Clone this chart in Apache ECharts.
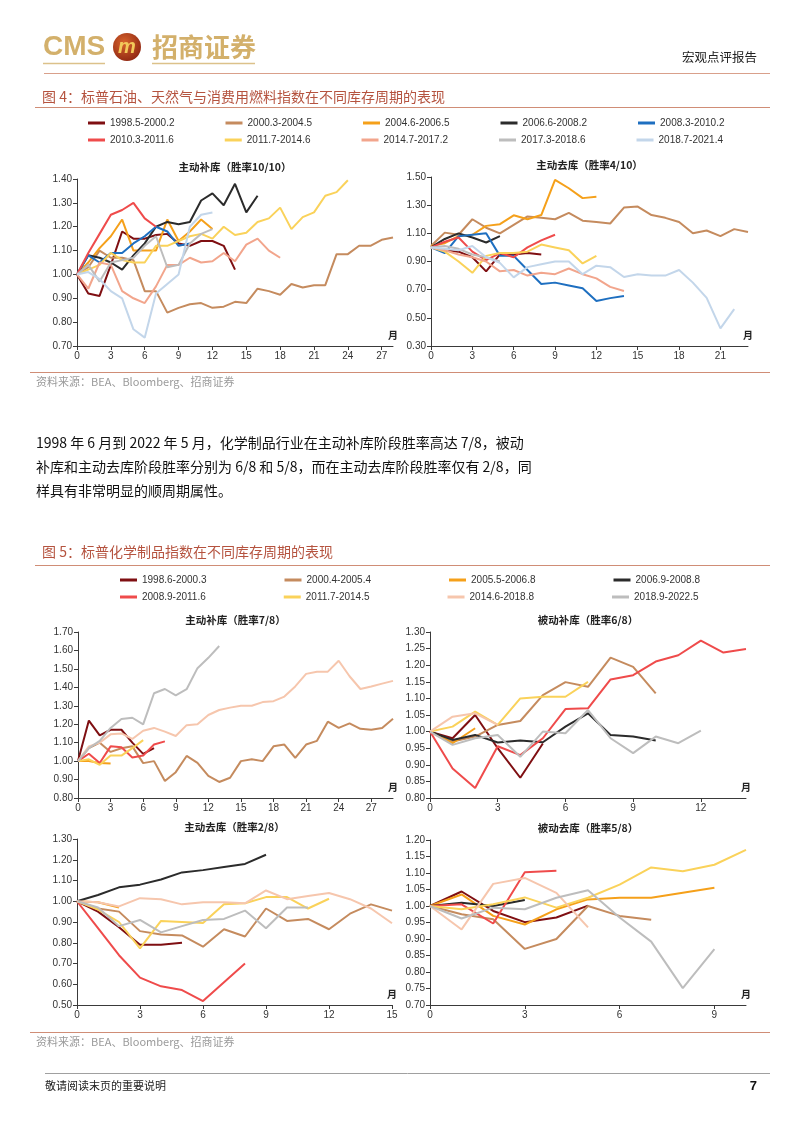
<!DOCTYPE html>
<html><head><meta charset="utf-8">
<script src="https://cdn.jsdelivr.net/npm/echarts@6/dist/echarts.min.js"></script>
<style>html,body{margin:0;padding:0;background:#fff}#c{width:802px;height:1133px}</style>
</head><body><div id="c"></div>
<script>
// ---------- DATA ----------
const fig4Names = ['1998.5-2000.2','2000.3-2004.5','2004.6-2006.5','2006.6-2008.2','2008.3-2010.2','2010.3-2011.6','2011.7-2014.6','2014.7-2017.2','2017.3-2018.6','2018.7-2021.4'];
const fig5Names = ['1998.6-2000.3','2000.4-2005.4','2005.5-2006.8','2006.9-2008.8','2008.9-2011.6','2011.7-2014.5','2014.6-2018.8','2018.9-2022.5'];

// Fig 4 left: 主动补库, index = month (order = fig4Names)
const fig4Left = [
  [1.00,0.92,0.91,1.04,1.18,1.15,1.15,1.165,1.17,1.13,1.12,1.14,1.14,1.12,1.02],
  [1.00,1.03,1.10,1.07,1.07,1.06,0.93,0.93,0.84,0.86,0.875,0.88,0.86,0.865,0.885,0.88,0.94,0.93,0.915,0.96,0.945,0.955,0.955,1.085,1.085,1.12,1.12,1.145,1.155],
  [1.00,1.05,1.11,1.16,1.23,1.10,1.10,1.10,1.23,1.14,1.18,1.23,1.19],
  [1.00,1.08,1.07,1.05,1.02,1.08,1.13,1.20,1.22,1.21,1.22,1.31,1.34,1.29,1.38,1.26,1.33],
  [1.00,1.08,1.05,1.09,1.09,1.13,1.16,1.20,1.18,1.12,1.13],
  [1.00,1.09,1.17,1.25,1.27,1.30,1.235,1.20],
  [1.00,1.02,1.04,1.09,1.06,1.05,1.05,1.12,1.12,1.14,1.16,1.17,1.15,1.20,1.165,1.175,1.22,1.235,1.28,1.19,1.24,1.26,1.33,1.345,1.395],
  [1.00,0.94,1.05,1.04,0.93,0.90,0.88,0.95,1.04,1.04,1.07,1.05,1.055,1.09,1.055,1.125,1.15,1.10,1.07],
  [1.00,1.04,0.97,1.05,1.06,1.07,1.12,1.16,1.03,1.04,1.13,1.17,1.19],
  [1.00,1.01,0.98,0.93,0.90,0.77,0.735,0.92,0.96,1.00,1.20,1.25,1.26]
];
// Fig 4 right: 主动去库
const fig4Right = [
  [1.00,0.98,0.97,0.93,0.83,0.95,0.95,0.96,0.95],
  [1.01,1.105,1.09,1.20,1.14,1.10,1.16,1.22,1.21,1.20,1.245,1.19,1.18,1.17,1.283,1.29,1.23,1.21,1.18,1.10,1.12,1.08,1.13,1.11],
  [1.01,1.03,1.08,1.09,1.153,1.165,1.228,1.20,1.23,1.48,1.42,1.35,1.36],
  [1.00,1.06,1.10,1.07,1.035,1.08],
  [1.00,0.96,1.08,1.09,1.10,0.94,0.94,0.84,0.74,0.75,0.73,0.71,0.62,0.64,0.655],
  [1.00,1.04,1.07,0.97,0.91,0.96,0.93,1.00,1.05,1.09],
  [1.00,0.97,0.90,0.82,0.94,0.96,0.96,0.97,1.02,1.00,0.98,0.886,0.94],
  [1.00,0.98,0.95,0.93,0.90,0.83,0.84,0.80,0.82,0.81,0.85,0.81,0.78,0.72,0.69],
  [1.00,1.01,0.99,0.95,0.93,0.90],
  [1.00,0.99,0.98,1.01,0.93,0.89,0.787,0.86,0.88,0.90,0.90,0.81,0.87,0.86,0.79,0.81,0.80,0.80,0.84,0.75,0.642,0.425,0.562]
];
// Fig 5 (order = fig5Names)
const fig5ActRestock = [
  [1.00,1.22,1.14,1.17,1.17,1.10,1.039,1.07],
  [1.00,1.07,1.10,1.05,1.07,1.08,0.989,1.00,0.892,0.94,1.028,0.99,0.92,0.887,0.91,1.00,1.01,1.00,1.08,1.09,1.018,1.09,1.11,1.214,1.18,1.205,1.175,1.17,1.18,1.23],
  [1.00,1.00,0.99,0.987],
  [],
  [1.00,1.04,0.99,1.08,1.075,1.02,1.03,1.09,1.107],
  [1.00,1.01,0.98,1.03,1.03,1.07,1.114],
  [1.00,1.08,1.10,1.145,1.15,1.12,1.165,1.18,1.16,1.136,1.195,1.20,1.25,1.277,1.29,1.30,1.30,1.32,1.325,1.35,1.405,1.473,1.485,1.485,1.544,1.46,1.391,1.405,1.42,1.435],
  [1.00,1.07,1.11,1.18,1.228,1.235,1.199,1.368,1.391,1.357,1.39,1.504,1.56,1.624]
];
const fig5PasRestock = [
  [1.00,0.98,1.05,0.95,0.861,0.964],
  [1.00,0.97,0.985,1.02,1.032,1.11,1.149,1.135,1.223,1.195,1.115],
  [1.00,0.965,1.01],
  [1.00,0.975,0.99,0.967,0.973,0.968,1.015,1.055,0.99,0.985,0.973],
  [1.00,0.889,0.83,0.956,0.929,0.98,1.068,1.07,1.157,1.17,1.211,1.23,1.274,1.238,1.249],
  [1.00,1.015,1.06,1.02,1.10,1.105,1.105,1.15],
  [1.00,1.045,1.055,1.02],
  [1.00,0.96,0.98,0.99,0.924,1.00,0.995,1.065,0.98,0.935,0.985,0.965,1.003]
];
const fig5ActDestock = [
  [1.00,0.95,0.875,0.79,0.79,0.80],
  [1.00,0.965,0.95,0.856,0.84,0.835,0.781,0.865,0.83,0.965,0.905,0.915,0.865,0.94,0.985,0.955],
  [1.00,0.995,0.97],
  [1.00,1.03,1.067,1.08,1.105,1.139,1.15,1.165,1.18,1.224],
  [1.00,0.87,0.74,0.632,0.59,0.572,0.519,0.61,0.70],
  [1.00,0.96,0.90,0.773,0.905,0.90,0.895,0.985,0.99,1.02,1.02,0.965,1.012],
  [1.00,0.995,0.975,1.015,1.01,0.985,0.995,0.995,0.99,1.052,1.01,1.025,1.04,1.01,0.965,0.894],
  [1.00,0.97,0.88,0.91,0.85,0.88,0.91,0.915,0.955,0.87,0.97,0.97]
];
const fig5PasDestock = [
  [1.00,1.044,0.985,0.951,0.965,1.001],
  [1.00,0.975,0.96,0.87,0.90,1.00,0.97,0.958],
  [1.00,1.035,0.97,0.944,0.99,1.02,1.025,1.025,1.04,1.055],
  [1.00,1.01,1.00,1.018],
  [1.00,1.005,0.947,1.102,1.107],
  [1.00,0.99,1.005,1.026,0.995,1.025,1.065,1.117,1.105,1.125,1.17],
  [1.00,0.929,1.067,1.085,1.04,0.935],
  [1.00,0.962,0.995,0.99,1.025,1.048,0.965,0.892,0.751,0.869]
];

// ---------- STYLE ----------
const fig4Colors = ['#7f0f12','#c58b5e','#f5a01a','#2b2b2b','#1e6fc0','#ef4b4b','#fad25a','#f2a58c','#bdbdbd','#c3d6ea'];
const fig5Colors = ['#7f0f12','#c58b5e','#f5a01a','#2b2b2b','#ef4b4b','#fad25a','#f6c6ad','#bdbdbd'];
const CJK = 'Noto Sans CJK SC';
const LAT = 'Liberation Sans';
const GOLD = '#d3b06b';

const panels = [
  {title:'主动补库（胜率10/10）', names:fig4Names, colors:fig4Colors, data:fig4Left,  xMax:28, yMin:0.7, yMax:1.4, yStep:0.1, g:{left:77, top:179, width:316, height:167}},
  {title:'主动去库（胜率4/10）',  names:fig4Names, colors:fig4Colors, data:fig4Right, xMax:23, yMin:0.3, yMax:1.5, yStep:0.2, g:{left:431,top:177, width:317, height:169}},
  {title:'主动补库（胜率7/8）',   names:fig5Names, colors:fig5Colors, data:fig5ActRestock, xMax:29, yMin:0.8, yMax:1.7, yStep:0.1, g:{left:78, top:632, width:315, height:166}},
  {title:'被动补库（胜率6/8）',   names:fig5Names, colors:fig5Colors, data:fig5PasRestock, xMax:14, yMin:0.8, yMax:1.3, yStep:0.05, g:{left:430,top:632, width:316, height:166}},
  {title:'主动去库（胜率2/8）',   names:fig5Names, colors:fig5Colors, data:fig5ActDestock, xMax:15, yMin:0.5, yMax:1.3, yStep:0.1, g:{left:77, top:839, width:315, height:166}},
  {title:'被动去库（胜率5/8）',   names:fig5Names, colors:fig5Colors, data:fig5PasDestock, xMax:10, yMin:0.7, yMax:1.2, yStep:0.05, g:{left:430,top:840, width:316, height:165}}
];

const months = n => Array.from({length:n+1}, (_, i) => String(i));
const axisCol = '#3a3a3a';

const grids = [], xAxes = [], yAxes = [], series = [], gfx = [];
panels.forEach((p, gi) => {
  grids.push(Object.assign({containLabel:false}, p.g));
  xAxes.push({
    type:'category', gridIndex:gi, data:months(p.xMax), boundaryGap:false,
    axisLine:{show:true, lineStyle:{color:axisCol, width:1}},
    axisTick:{show:true, interval:2, length:4, lineStyle:{color:axisCol}},
    axisLabel:{interval:2, fontSize:10, color:'#333', fontFamily:LAT, margin:5},
    splitLine:{show:false},
    name:'月', nameLocation:'end', nameGap:0,
    nameTextStyle:{fontFamily:CJK, fontWeight:'bold', fontSize:10, color:'#222', align:'center', verticalAlign:'bottom', padding:[0,0,6,0]}
  });
  yAxes.push({
    type:'value', gridIndex:gi, min:p.yMin, max:p.yMax, interval:p.yStep,
    axisLine:{show:true, lineStyle:{color:axisCol, width:1}},
    axisTick:{show:true, length:4, lineStyle:{color:axisCol}},
    axisLabel:{fontSize:10, color:'#333', fontFamily:LAT, margin:5, formatter:v => v.toFixed(2)},
    splitLine:{show:false}
  });
  p.data.forEach((d, si) => {
    if (!d.length) return;
    series.push({
      type:'line', name:p.names[si], xAxisIndex:gi, yAxisIndex:gi, data:d,
      symbol:'none', smooth:false, animation:false,
      lineStyle:{width:2, color:p.colors[si]}, itemStyle:{color:p.colors[si]}
    });
  });
  gfx.push({type:'text', x:p.g.left + p.g.width/2, y:p.g.top - 12,
    style:{text:p.title, fontFamily:CJK, fontWeight:'bold', fontSize:10.5, fill:'#222', align:'center', verticalAlign:'middle'}});
});

const redRule = '#d08d76';
function hline(x1, x2, y, color, w) {
  return {type:'line', shape:{x1:x1, y1:y, x2:x2, y2:y}, style:{stroke:color, lineWidth:w||1}};
}
function txt(x, y, s, size, fill, opt) {
  return {type:'text', x:x, y:y, style:Object.assign({text:s, fontSize:size, fontFamily:CJK, fill:fill, align:'left', verticalAlign:'middle'}, opt||{})};
}

// header
gfx.push({type:'text', x:43, y:47, style:{text:'CMS', fontSize:28, fontWeight:'bold', fontFamily:LAT, fill:GOLD, align:'left', verticalAlign:'middle'}});
gfx.push({type:'circle', shape:{cx:127, cy:47, r:14}, style:{fill:{type:'radial', x:0.4, y:0.35, r:0.75, colorStops:[{offset:0,color:'#d8642c'},{offset:1,color:'#8a2210'}]}}});
gfx.push({type:'text', x:127, y:47, style:{text:'m', fontSize:20, fontWeight:'bold', fontStyle:'italic', fontFamily:LAT, fill:'#f2c95a', align:'center', verticalAlign:'middle'}});
gfx.push(txt(152, 47, '招商证券', 26, GOLD, {fontWeight:'bold'}));
gfx.push(hline(43, 105, 63.5, '#dcc18a', 1.5));
gfx.push(hline(152, 255, 63.5, '#dcc18a', 1.5));
gfx.push(txt(757, 57, '宏观点评报告', 12.5, '#222', {align:'right'}));
gfx.push(hline(44, 770, 73.5, '#d9a08b', 1));

// fig 4 header
gfx.push(txt(42, 97, '图 4：标普石油、天然气与消费用燃料指数在不同库存周期的表现', 14, '#b5533f'));
gfx.push(hline(35, 770, 107.5, redRule, 1.2));
gfx.push(hline(30, 770, 372.5, redRule, 1.2));
gfx.push(txt(36, 382, '资料来源：BEA、Bloomberg、招商证券', 11, '#9a9a9a'));

// paragraph
gfx.push(txt(36, 443, '1998 年 6 月到 2022 年 5 月，化学制品行业在主动补库阶段胜率高达 7/8，被动', 14, '#111'));
gfx.push(txt(36, 467, '补库和主动去库阶段胜率分别为 6/8 和 5/8，而在主动去库阶段胜率仅有 2/8，同', 14, '#111'));
gfx.push(txt(36, 491, '样具有非常明显的顺周期属性。', 14, '#111'));

// fig 5 header
gfx.push(txt(42, 552, '图 5：标普化学制品指数在不同库存周期的表现', 14, '#b5533f'));
gfx.push(hline(35, 770, 565.5, redRule, 1.2));
gfx.push(hline(30, 770, 1032.5, redRule, 1.2));
gfx.push(txt(36, 1042, '资料来源：BEA、Bloomberg、招商证券', 11, '#9a9a9a'));

// footer
gfx.push(hline(45, 770, 1073.5, '#a0a0a0', 1));
gfx.push(txt(45, 1086, '敬请阅读末页的重要说明', 11, '#222'));
gfx.push(txt(757, 1086, '7', 13, '#111', {align:'right', fontFamily:LAT, fontWeight:'bold'}));

function legendRow(names, left, top, gap) {
  return {data:names, left:left, top:top, orient:'horizontal', padding:0, itemGap:gap,
    icon:'rect', itemWidth:17, itemHeight:3, selectedMode:false,
    textStyle:{fontSize:10, fontFamily:LAT, color:'#333'}};
}

const chart = echarts.init(document.getElementById('c'), null, {renderer:'canvas'});
chart.setOption({
  backgroundColor:'#fff',
  animation:false,
  grid:grids, xAxis:xAxes, yAxis:yAxes, series:series,
  legend:[
    legendRow(fig4Names.slice(0,5), 88, 118, 51),
    legendRow(fig4Names.slice(5), 88, 135, 51),
    legendRow(fig5Names.slice(0,4), 120, 575, 78),
    legendRow(fig5Names.slice(4), 120, 592, 78)
  ],
  graphic:{elements:gfx}
});
</script></body></html>
